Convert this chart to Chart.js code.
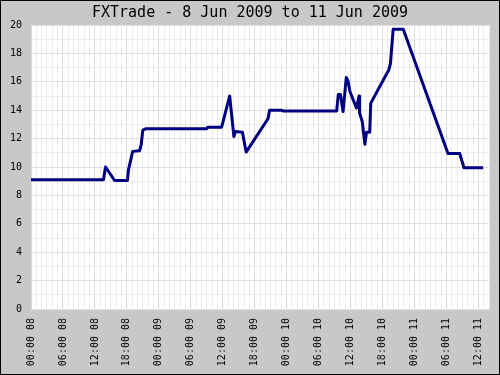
<!DOCTYPE html>
<html>
<head>
<meta charset="utf-8">
<script src="https://cdn.jsdelivr.net/npm/chart.js@4/dist/chart.umd.min.js"></script>
<style>
  html, body { margin: 0; padding: 0; background: #c8c8c8; }
  canvas { display: block; }
</style>
</head>
<body>
<canvas id="fxChart" width="500" height="375"></canvas>
<script>
// hours since 8 Jun 2009 00:00
const hours = [0, 13.6, 14.0, 15.7, 18.1, 18.3, 19.1, 20.4, 20.7, 21.0, 21.6,
  33.0, 33.2, 35.8, 37.3, 38.1, 38.4, 39.7, 40.4, 44.5, 44.8, 47.0, 47.3,
  57.4, 57.7, 58.1, 58.6, 59.2, 59.5, 59.9, 61.1, 61.6, 61.7, 62.2, 62.7,
  63.0, 63.6, 63.8, 67.2, 67.5, 68.0, 69.9, 78.3, 80.5, 81.3, 84.9];
const values = [9.1, 9.1, 10.0, 9.05, 9.05, 9.8, 11.1, 11.15, 11.6, 12.6, 12.7,
  12.7, 12.8, 12.8, 15.0, 12.15, 12.5, 12.45, 11.05, 13.4, 14.0, 14.0, 13.95,
  13.95, 15.1, 15.1, 13.9, 16.3, 16.1, 15.3, 14.15, 15.0, 13.8, 13.2, 11.6,
  12.45, 12.45, 14.5, 16.85, 17.3, 19.7, 19.7, 10.95, 10.95, 9.95, 9.95];
const titleText = 'FXTrade - 8 Jun 2009 to 11 Jun 2009';
const startDay = 8;

function pad2(n) { return (n < 10 ? '0' : '') + n; }
function hourLabel(h) {
  if (h % 6 !== 0) return '';
  const day = startDay + Math.floor(h / 24);
  return pad2(h % 24) + ':00 ' + pad2(day);
}

const frame = {
  id: 'frame',
  beforeDraw(chart) {
    const ctx = chart.ctx;
    const a = chart.chartArea;
    ctx.save();
    ctx.fillStyle = '#c8c8c8';
    ctx.fillRect(0, 0, chart.width, chart.height);
    ctx.fillStyle = '#ffffff';
    ctx.fillRect(a.left, a.top, a.right - a.left, a.bottom - a.top);
    ctx.strokeStyle = '#000000';
    ctx.lineWidth = 1;
    ctx.strokeRect(0.5, 0.5, chart.width - 1, chart.height - 1);
    ctx.fillStyle = '#000000';
    ctx.font = '15px "DejaVu Sans Mono"';
    ctx.textAlign = 'center';
    ctx.textBaseline = 'alphabetic';
    ctx.fillText(titleText, chart.width / 2, 17);
    ctx.restore();
  }
};

const tickFont = { family: 'DejaVu Sans Mono', size: 10 };

new Chart(document.getElementById('fxChart'), {
  type: 'line',
  data: {
    datasets: [{
      data: hours.map((h, i) => ({ x: h, y: values[i] })),
      borderColor: '#000080',
      borderWidth: 3,
      pointRadius: 0,
      tension: 0,
      borderJoinStyle: 'round',
      fill: false
    }]
  },
  options: {
    responsive: false,
    animation: false,
    devicePixelRatio: 1,
    layout: { padding: { top: 25, right: 11, left: 0, bottom: 0 } },
    plugins: { legend: { display: false }, tooltip: { enabled: false }, title: { display: false } },
    scales: {
      x: {
        type: 'linear',
        min: 0,
        max: 86,
        border: { display: false },
        grid: {
          drawTicks: false,
          color: (c) => (c.tick && c.tick.value % 6 === 0) ? '#dadada' : '#ececec'
        },
        ticks: {
          stepSize: 1,
          autoSkip: false,
          minRotation: 90,
          maxRotation: 90,
          padding: 9,
          color: '#000',
          font: tickFont,
          callback: (v) => hourLabel(v)
        },
        afterFit: (s) => { s.height = 66; s.paddingLeft = 0; s.paddingRight = 0; }
      },
      y: {
        min: 0,
        max: 20,
        border: { display: false },
        grid: {
          drawTicks: false,
          color: (c) => (c.tick && c.tick.value % 2 === 0) ? '#e0e0e0' : '#ececec'
        },
        ticks: {
          stepSize: 1,
          autoSkip: false,
          padding: 9,
          color: '#000',
          font: tickFont,
          callback: (v) => (v % 2 === 0 ? String(v) : '')
        },
        afterFit: (s) => { s.width = 31; s.paddingTop = 0; s.paddingBottom = 0; }
      }
    }
  },
  plugins: [frame]
});
</script>
</body>
</html>
